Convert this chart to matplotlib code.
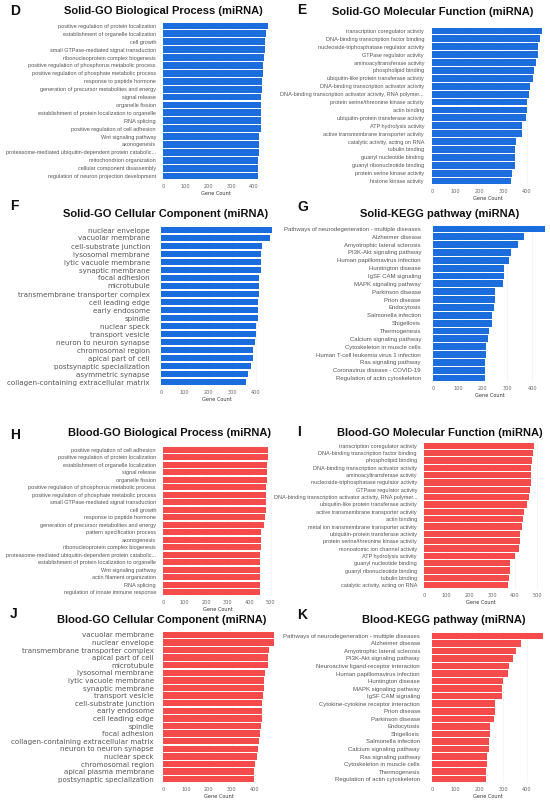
import matplotlib.pyplot as plt
from matplotlib import font_manager

# figure size in pixels
W, H = 550, 802

BLUE = "#1b6cdc"
RED = "#f54b4b"

names = {f.name for f in font_manager.fontManager.ttflist}
NARROW = "Liberation Sans Narrow" if "Liberation Sans Narrow" in names else "Liberation Sans"

# ---------------- data ----------------
solid_bp_terms = [
    "positive regulation of protein localization", "establishment of organelle localization",
    "cell growth", "small GTPase-mediated signal transduction", "ribonucleoprotein complex biogenesis",
    "positive regulation of phosphorus metabolic process", "positive regulation of phosphate metabolic process",
    "response to peptide hormone", "generation of precursor metabolites and energy", "signal release",
    "organelle fission", "establishment of protein localization to organelle", "RNA splicing",
    "positive regulation of cell adhesion", "Wnt signaling pathway", "axonogenesis",
    "proteasome-mediated ubiquitin-dependent protein catabolic...", "mitochondrion organization",
    "cellular component disassembly", "regulation of neuron projection development"]
solid_bp_counts = [465, 453, 451, 450, 447, 441, 440, 438, 435, 434,
                   434, 432, 432, 431, 425, 424, 422, 421, 421, 418]

solid_mf_terms = [
    "transcription coregulator activity", "DNA-binding transcription factor binding",
    "nucleoside-triphosphatase regulator activity", "GTPase regulator activity",
    "aminoacyltransferase activity", "phospholipid binding", "ubiquitin-like protein transferase activity",
    "DNA-binding transcription activator activity", "DNA-binding transcription activator activity, RNA polymer...",
    "protein serine/threonine kinase activity", "actin binding", "ubiquitin-protein transferase activity",
    "ATP hydrolysis activity", "active transmembrane transporter activity", "catalytic activity, acting on RNA",
    "tubulin binding", "guanyl nucleotide binding", "guanyl ribonucleotide binding",
    "protein serine kinase activity", "histone kinase activity"]
solid_mf_counts = [465, 456, 445, 445, 436, 428, 424, 414, 407, 401,
                   399, 394, 379, 379, 354, 348, 348, 348, 337, 331]

solid_cc_terms = [
    "nuclear envelope", "vacuolar membrane", "cell-substrate junction", "lysosomal membrane",
    "lytic vacuole membrane", "synaptic membrane", "focal adhesion", "microtubule",
    "transmembrane transporter complex", "cell leading edge", "early endosome", "spindle",
    "nuclear speck", "transport vesicle", "neuron to neuron synapse", "chromosomal region",
    "apical part of cell", "postsynaptic specialization", "asymmetric synapse",
    "collagen-containing extracellular matrix"]
solid_cc_counts = [467, 458, 425, 421, 421, 420, 414, 413, 411, 410,
                   410, 408, 400, 399, 397, 389, 386, 380, 365, 359]

solid_kegg_terms = [
    "Pathways of neurodegeneration - multiple diseases", "Alzheimer disease", "Amyotrophic lateral sclerosis",
    "PI3K-Akt signaling pathway", "Human papillomavirus infection", "Huntington disease",
    "IgSF CAM signaling", "MAPK signaling pathway", "Parkinson disease", "Prion disease",
    "Endocytosis", "Salmonella infection", "Shigellosis", "Thermogenesis", "Calcium signaling pathway",
    "Cytoskeleton in muscle cells", "Human T-cell leukemia virus 1 infection", "Ras signaling pathway",
    "Coronavirus disease - COVID-19", "Regulation of actin cytoskeleton"]
solid_kegg_counts = [450, 365, 341, 313, 306, 287, 285, 283, 250, 250,
                     244, 238, 236, 224, 221, 213, 212, 211, 211, 208]

blood_bp_terms = [
    "positive regulation of cell adhesion", "positive regulation of protein localization",
    "establishment of organelle localization", "signal release", "organelle fission",
    "positive regulation of phosphorus metabolic process", "positive regulation of phosphate metabolic process",
    "small GTPase-mediated signal transduction", "cell growth", "response to peptide hormone",
    "generation of precursor metabolites and energy", "pattern specification process", "axonogenesis",
    "ribonucleoprotein complex biogenesis", "proteasome-mediated ubiquitin-dependent protein catabolic...",
    "establishment of protein localization to organelle", "Wnt signaling pathway",
    "actin filament organization", "RNA splicing", "regulation of innate immune response"]
blood_bp_counts = [487, 485, 482, 481, 481, 479, 479, 479, 479, 474,
                   468, 457, 454, 454, 451, 449, 448, 448, 448, 448]

blood_mf_terms = [
    "transcription coregulator activity", "DNA-binding transcription factor binding", "phospholipid binding",
    "DNA-binding transcription activator activity", "aminoacyltransferase activity",
    "nucleoside-triphosphatase regulator activity", "GTPase regulator activity",
    "DNA-binding transcription activator activity, RNA polymer...", "ubiquitin-like protein transferase activity",
    "active transmembrane transporter activity", "actin binding", "metal ion transmembrane transporter activity",
    "ubiquitin-protein transferase activity", "protein serine/threonine kinase activity",
    "monoatomic ion channel activity", "ATP hydrolysis activity", "guanyl nucleotide binding",
    "guanyl ribonucleotide binding", "tubulin binding", "catalytic activity, acting on RNA"]
blood_mf_counts = [485, 482, 475, 472, 472, 471, 469, 463, 454, 440,
                   437, 431, 425, 422, 419, 403, 381, 381, 375, 372]

blood_cc_terms = [
    "vacuolar membrane", "nuclear envelope", "transmembrane transporter complex", "apical part of cell",
    "microtubule", "lysosomal membrane", "lytic vacuole membrane", "synaptic membrane",
    "transport vesicle", "cell-substrate junction", "early endosome", "cell leading edge", "spindle",
    "focal adhesion", "collagen-containing extracellular matrix", "neuron to neuron synapse",
    "nuclear speck", "chromosomal region", "apical plasma membrane", "postsynaptic specialization"]
blood_cc_counts = [483, 483, 463, 460, 458, 444, 442, 441, 435, 433,
                   432, 431, 428, 425, 419, 413, 409, 403, 399, 396]

blood_kegg_terms = [
    "Pathways of neurodegeneration - multiple diseases", "Alzheimer disease", "Amyotrophic lateral sclerosis",
    "PI3K-Akt signaling pathway", "Neuroactive ligand-receptor interaction", "Human papillomavirus infection",
    "Huntington disease", "MAPK signaling pathway", "IgSF CAM signaling",
    "Cytokine-cytokine receptor interaction", "Prion disease", "Parkinson disease", "Endocytosis",
    "Shigellosis", "Salmonella infection", "Calcium signaling pathway", "Ras signaling pathway",
    "Cytoskeleton in muscle cells", "Thermogenesis", "Regulation of actin cytoskeleton"]
blood_kegg_counts = [469, 376, 354, 341, 326, 319, 299, 293, 293, 265,
                     265, 260, 246, 244, 241, 240, 233, 230, 229, 226]

# ---------------- layout (pixels) ----------------
# letter, title, terms, counts, colour, origin x, top y, bottom y, px per unit, xmax, ticks,
# label font, label size, label gap px, title centre x, title y, letter x, letter y
panels = [
    ("D", "Solid-GO Biological Process (miRNA)", solid_bp_terms, solid_bp_counts, BLUE,
     163, 22, 180, 0.2267, 470, [0, 100, 200, 300, 400], NARROW, 3.95, 7, 163, 11, 10, 11),
    ("E", "Solid-GO Molecular Function (miRNA)", solid_mf_terms, solid_mf_counts, BLUE,
     432, 27, 185, 0.2375, 470, [0, 100, 200, 300, 400], NARROW, 3.95, 8, 433, 12, 297, 10),
    ("F", "Solid-GO Cellular Component (miRNA)", solid_cc_terms, solid_cc_counts, BLUE,
     161, 226, 386, 0.2375, 470, [0, 100, 200, 300, 400], "DejaVu Sans", 5.1, 11, 166, 214, 10, 206),
    ("G", "Solid-KEGG pathway (miRNA)", solid_kegg_terms, solid_kegg_counts, BLUE,
     433, 225, 382, 0.2483, 455, [0, 100, 200, 300, 400], "Liberation Sans", 4.35, 12, 440, 214, 297, 207),
    ("H", "Blood-GO Biological Process (miRNA)", blood_bp_terms, blood_bp_counts, RED,
     163, 446, 596, 0.2155, 505, [0, 100, 200, 300, 400, 500], NARROW, 3.95, 7, 169, 433, 10, 435),
    ("I", "Blood-GO Molecular Function (miRNA)", blood_mf_terms, blood_mf_counts, RED,
     424, 442, 589, 0.2267, 505, [0, 100, 200, 300, 400, 500], NARROW, 3.95, 7, 440, 433, 297, 432),
    ("J", "Blood-GO Cellular Component (miRNA)", blood_cc_terms, blood_cc_counts, RED,
     163, 631, 783, 0.2292, 487, [0, 100, 200, 300, 400], "DejaVu Sans", 5.1, 9, 162, 620, 10, 614),
    ("K", "Blood-KEGG pathway (miRNA)", blood_kegg_terms, blood_kegg_counts, RED,
     432, 632, 783, 0.2375, 472, [0, 100, 200, 300, 400], "Liberation Sans", 4.35, 12, 444, 620, 297, 615),
]

fig = plt.figure(figsize=(W / 100, H / 100), dpi=100)
fig.patch.set_facecolor("white")

for (letter, title, terms, counts, color, x0, ytop, ybot, ppu, xmax, ticks,
     lfont, lsize, gap, tx, ty, lx, ly) in panels:
    width_px = xmax * ppu
    ax = fig.add_axes([x0 / W, 1 - ybot / H, width_px / W, (ybot - ytop) / H])
    ypos = list(range(len(terms)))
    ax.barh(ypos, counts, height=0.86, color=color, zorder=2)
    ax.set_ylim(len(terms) - 0.5, -0.5)
    ax.set_xlim(0, xmax)
    ax.set_yticks(ypos)
    ax.set_yticklabels(terms, fontsize=lsize, color="#555555", family=lfont)
    ax.set_xticks(ticks)
    ax.set_xticklabels([str(t) for t in ticks], fontsize=3.6, color="#666666")
    ax.tick_params(axis="x", length=0, pad=3)
    ax.tick_params(axis="y", length=0, pad=gap * 0.72)
    ax.grid(axis="x", color="#eeeeee", linewidth=0.4, zorder=0)
    for s in ax.spines.values():
        s.set_visible(False)
    ax.set_xlabel("Gene Count", fontsize=3.6, color="#333333", labelpad=1.5)

    fig.text(tx / W, 1 - ty / H, title, fontsize=8.0, fontweight="bold",
             family="Liberation Sans", ha="center", va="center", color="#111111")
    fig.text(lx / W, 1 - ly / H, letter, fontsize=10, fontweight="bold",
             family="Liberation Sans", ha="left", va="center", color="#111111")

fig.savefig("out.png", dpi=100, facecolor="white")
